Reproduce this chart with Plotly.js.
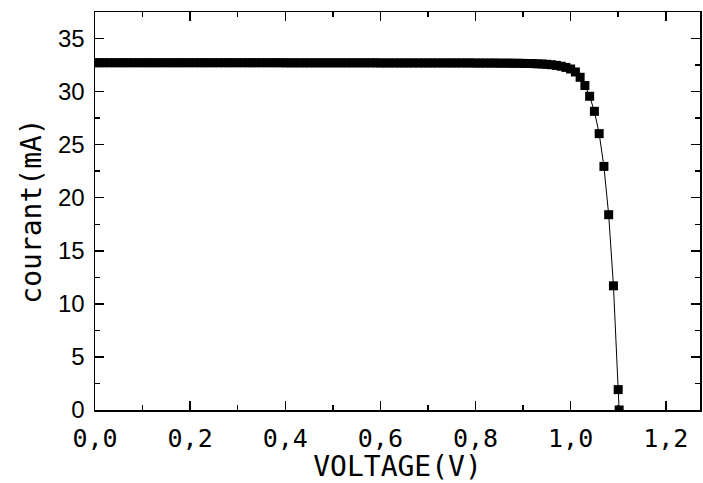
<!DOCTYPE html>
<html>
<head>
<meta charset="utf-8">
<script src="https://cdn.plot.ly/plotly-3.0.1.min.js"></script>
<style>
html,body{margin:0;padding:0;background:#fff;}
#chart{width:703px;height:483px;}
</style>
</head>
<body>
<div id="chart"></div>
<script>
// Voltage (V)
const voltage = [
  0.00,0.01,0.02,0.03,0.04,0.05,0.06,0.07,0.08,0.09,
  0.10,0.11,0.12,0.13,0.14,0.15,0.16,0.17,0.18,0.19,
  0.20,0.21,0.22,0.23,0.24,0.25,0.26,0.27,0.28,0.29,
  0.30,0.31,0.32,0.33,0.34,0.35,0.36,0.37,0.38,0.39,
  0.40,0.41,0.42,0.43,0.44,0.45,0.46,0.47,0.48,0.49,
  0.50,0.51,0.52,0.53,0.54,0.55,0.56,0.57,0.58,0.59,
  0.60,0.61,0.62,0.63,0.64,0.65,0.66,0.67,0.68,0.69,
  0.70,0.71,0.72,0.73,0.74,0.75,0.76,0.77,0.78,0.79,
  0.80,0.81,0.82,0.83,0.84,0.85,0.86,0.87,0.88,0.89,
  0.90,0.91,0.92,0.93,0.94,0.95,0.96,0.97,0.98,0.99,
  1.00,1.01,1.02,1.03,1.04,1.05,1.06,1.07,1.08,1.09,
  1.10,1.102
];
// Current (mA)
const current = [
  32.72,32.72,32.72,32.72,32.72,32.72,32.72,32.72,32.72,32.72,
  32.72,32.72,32.72,32.72,32.72,32.72,32.72,32.72,32.72,32.72,
  32.72,32.72,32.72,32.72,32.72,32.72,32.72,32.72,32.72,32.72,
  32.72,32.72,32.72,32.72,32.72,32.72,32.72,32.72,32.72,32.72,
  32.71,32.71,32.71,32.71,32.71,32.71,32.71,32.71,32.71,32.71,
  32.71,32.71,32.71,32.71,32.71,32.71,32.71,32.71,32.71,32.71,
  32.70,32.70,32.70,32.70,32.70,32.70,32.70,32.70,32.70,32.70,
  32.70,32.70,32.70,32.70,32.70,32.70,32.70,32.70,32.70,32.70,
  32.69,32.69,32.69,32.69,32.69,32.68,32.68,32.68,32.67,32.67,
  32.66,32.65,32.64,32.62,32.60,32.57,32.53,32.47,32.39,32.28,
  32.13,31.85,31.35,30.57,29.56,28.14,26.04,22.95,18.40,11.70,
  1.92,0.00
];
const xTickVals = [0, 0.2, 0.4, 0.6, 0.8, 1.0, 1.2];
const xTickText = ["0,0","0,2","0,4","0,6","0,8","1,0","1,2"];
const yTickVals = [0, 5, 10, 15, 20, 25, 30, 35];

const trace = {
  x: voltage, y: current,
  type: 'scatter', mode: 'lines+markers',
  line: {color: '#000', width: 1},
  marker: {symbol: 'square', size: 9, color: '#000', line: {width: 0}},
  cliponaxis: true,
  hoverinfo: 'skip'
};

const layout = {
  width: 703, height: 483,
  margin: {l: 95, r: 3, t: 12, b: 73},
  paper_bgcolor: '#fff', plot_bgcolor: '#fff',
  showlegend: false,
  xaxis: {
    range: [0, 1.272],
    tickvals: xTickVals, ticktext: xTickText,
    ticks: 'inside', ticklen: 9, tickwidth: 1.5, tickcolor: '#000',
    minor: {dtick: 0.1, tick0: 0, ticks: 'inside', ticklen: 5, tickwidth: 1.5, tickcolor: '#000'},
    showline: true, linecolor: '#000', linewidth: 1.5, mirror: 'ticks',
    showgrid: false, zeroline: false,
    tickfont: {family: 'DejaVu Sans Mono', size: 25, color: '#000'},
    ticklabelstandoff: 5,
    title: {text: 'VOLTAGE(V)', font: {family: 'DejaVu Sans Mono', size: 28, color: '#000'}, standoff: 6}
  },
  yaxis: {
    range: [0, 37.5],
    tickvals: yTickVals,
    ticks: 'inside', ticklen: 9, tickwidth: 1.5, tickcolor: '#000',
    minor: {dtick: 2.5, tick0: 0, ticks: 'inside', ticklen: 5, tickwidth: 1.5, tickcolor: '#000'},
    showline: true, linecolor: '#000', linewidth: 1.5, mirror: 'ticks',
    showgrid: false, zeroline: false,
    tickfont: {family: 'Liberation Sans', size: 24, color: '#000'},
    ticklabelstandoff: 4,
    title: {text: 'courant(mA)', font: {family: 'DejaVu Sans Mono', size: 28, color: '#000'}, standoff: 8}
  }
};

Plotly.newPlot('chart', [trace], layout, {staticPlot: true, displayModeBar: false});
</script>
</body>
</html>
